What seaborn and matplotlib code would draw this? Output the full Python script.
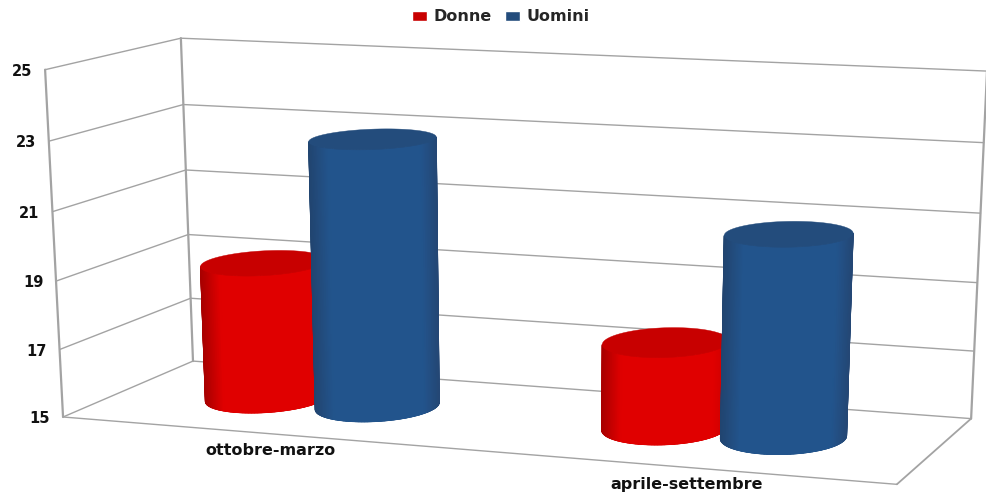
import numpy as np
import pandas as pd
import matplotlib
matplotlib.use("Agg")
import matplotlib.pyplot as plt
import seaborn as sns

# ---- data ----
categories = ["ottobre-marzo", "aprile-settembre"]
donne = [19.05, 17.5]
uomini = [22.85, 20.8]
series_names = ["Donne", "Uomini"]
y_ticks = [15, 17, 19, 21, 23, 25]
y_min, y_max = 15, 25

# ---- style ----
W, H = 986, 494
palette = {"Donne": "#C80000", "Uomini": "#234C7C"}
mid_col = {"Donne": (0.88, 0.0, 0.0), "Uomini": (0.135, 0.33, 0.55)}
left_col = {"Donne": (0.66, 0.0, 0.0), "Uomini": (0.13, 0.27, 0.44)}
right_col = {"Donne": (0.80, 0.0, 0.0), "Uomini": (0.14, 0.28, 0.46)}
grid_col = "#A3A3A3"

sns.set_theme(style="white")
plt.rcParams["font.family"] = ["DejaVu Sans"]
fig = plt.figure(figsize=(W / 100, H / 100), dpi=100)

# seaborn works out the bar layout and value scale on a hidden axes
df = pd.DataFrame({
    "periodo": categories * 2,
    "sesso": ["Donne"] * 2 + ["Uomini"] * 2,
    "valore": donne + uomini,
})
bar_ax = fig.add_axes([0, 0, 1, 1])
sns.barplot(data=df, x="periodo", y="valore", hue="sesso", hue_order=series_names,
            palette=palette, width=0.57, saturation=1, ax=bar_ax)
bar_ax.set_ylim(y_min, y_max)
bar_ax.set_xlim(-0.5, len(categories) - 0.5)
handles, labels = bar_ax.get_legend_handles_labels()
bar_ax.get_legend().remove()
bars = [(p, series_names[i // len(categories)]) for i, p in enumerate(bar_ax.patches[:4])]
bar_ax.set_visible(False)

# Perspective camera of the 3-D box, calibrated on the box corners
# (u along categories, v along values, w into depth -> image pixels)
box = [((0, 0, 0), (63, 417)), ((0, 1, 0), (45, 70)), ((0, 0, 1), (193, 361)),
       ((0, 1, 1), (181, 38)), ((1, 0, 1), (971, 419)), ((1, 1, 1), (987, 71)),
       ((1, 0, 0), (897, 484))]
A, b = [], []
for (X, Y, Z), (x, y) in box:
    A.append([X, Y, Z, 1, 0, 0, 0, 0, -x * X, -x * Y, -x * Z]); b.append(x)
    A.append([0, 0, 0, 0, X, Y, Z, 1, -y * X, -y * Y, -y * Z]); b.append(y)
P = np.append(np.linalg.lstsq(np.array(A, float), np.array(b, float), rcond=None)[0], 1).reshape(3, 4)


def proj(u, v, w):
    u, v, w = np.broadcast_arrays(u, v, w)
    q = P @ np.vstack([u.ravel(), v.ravel(), w.ravel(), np.ones(u.size)])
    return q[0] / q[2], q[1] / q[2]


ax = fig.add_axes([0, 0, 1, 1])
ax.set_xlim(0, W)
ax.set_ylim(H, 0)
ax.axis("off")


def seg(a, b, lw=1.0):
    x, y = proj(*np.array([a, b]).T)
    ax.plot(x, y, color=grid_col, lw=lw, solid_capstyle="round", zorder=1)


def vnorm(val):
    return (val - y_min) / (y_max - y_min)


# gridlines on the side and back walls, box edges
for t in y_ticks:
    v = vnorm(t)
    seg((0, v, 0), (0, v, 1))
    seg((0, v, 1), (1, v, 1))
    x, y = proj(0, v, 0)
    ax.text(x[0] - 23, y[0] + 1.5, str(t), ha="center", va="center",
            fontsize=10.5, fontweight="bold", color="#111111")
seg((0, 0, 0), (0, 1, 0), 1.6)
seg((0, 0, 1), (0, 1, 1), 1.6)
seg((1, 0, 1), (1, 1, 1), 1.6)
seg((0, 0, 0), (1, 0, 0))
seg((1, 0, 0), (1, 0, 1), 1.3)

# cylinders
span = len(categories)
R_FACTOR = 0.98     # cylinder diameter relative to its dodge slot
R_DEPTH = 0.26
W_CENTER = 0.52
theta = np.linspace(0, 2 * np.pi, 721)


def front_arc(uc, r, v, n=61):
    """Visible (front) arc of a cylinder section, from left to right silhouette."""
    ex, ey = proj(uc + r * np.cos(theta), v, W_CENTER + R_DEPTH * np.sin(theta))
    a_left = theta[np.argmin(ex)]
    a_right = theta[np.argmax(ex)]
    if a_left > a_right:
        a_right += 2 * np.pi
    a = np.linspace(a_left, a_right, n)
    x, y = proj(uc + r * np.cos(a), v, W_CENTER + R_DEPTH * np.sin(a))
    return x, y, ex, ey


z = 2
for patch, name in bars:
    uc = (patch.get_x() + patch.get_width() / 2 + 0.5) / span
    r = patch.get_width() / span / 2 * R_FACTOR
    vt = vnorm(patch.get_height())
    x0, y0, ex0, ey0 = front_arc(uc, r, 0)
    x1, y1, ex1, ey1 = front_arc(uc, r, vt)
    ax.fill(ex0, ey0, color=palette[name], lw=0.5, zorder=z)
    # smooth shaded side surface
    s = (x0 - x0.min()) / (x0.max() - x0.min())
    lc, mc, rc = (np.array(c) for c in (left_col[name], mid_col[name], right_col[name]))
    t = np.where(s < 0.5, np.clip((0.15 - s) / 0.15, 0, 1), np.clip((s - 0.88) / 0.12, 0, 1))
    cols = np.array([(lc if si < 0.5 else rc) * ti + mc * (1 - ti) for si, ti in zip(s, t)])
    ax.fill(np.r_[x0, x1[::-1]], np.r_[y0, y1[::-1]], color=mc, lw=0.5, zorder=z)
    X = np.vstack([x0, x1])
    Y = np.vstack([y0, y1])
    C = np.stack([cols, cols])
    ax.pcolormesh(X, Y, C, shading="gouraud", zorder=z + 0.2)
    ax.fill(ex1, ey1, color=palette[name], lw=0.3, zorder=z + 0.5)
    z += 1

# category labels along the front floor edge
for i, cat in enumerate(categories):
    x, y = proj((i + 0.5) / span, 0, 0)
    ax.text(x[0] + 12, y[0] + 18, cat, ha="center", va="center",
            fontsize=11.5, fontweight="bold", color="#111111")

fig.legend(handles, labels, loc="upper center", bbox_to_anchor=(0.508, 1.010), ncol=2, frameon=False,
           prop={"size": 11.5, "weight": "bold"}, handlelength=0.95, handleheight=0.55,
           handletextpad=0.4, columnspacing=0.85)

fig.savefig("out.png", dpi=100, facecolor="white")
